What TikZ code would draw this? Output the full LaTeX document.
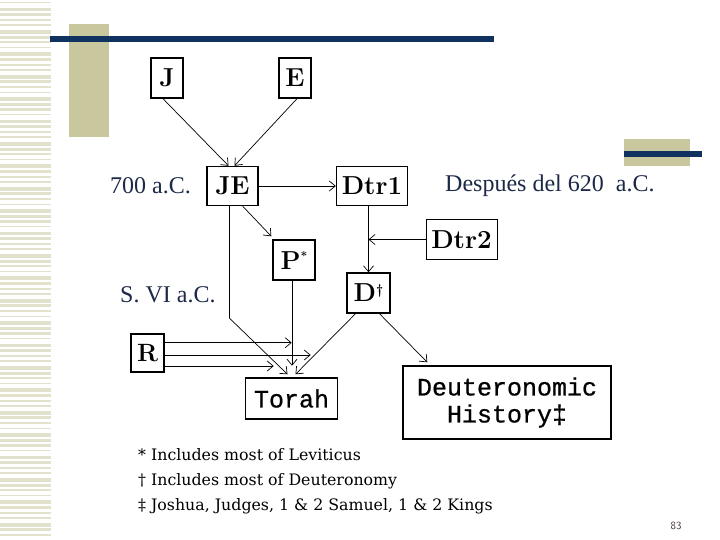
\documentclass[tikz,border=0pt]{standalone}
\usepackage{fontspec}
\newfontfamily\timesfnt{Liberation Serif}
\newfontfamily\monofnt[FakeBold=0.7]{Liberation Mono}
\newfontfamily\notefnt{DejaVu Serif}
\usetikzlibrary{arrows.meta,calc}
\definecolor{navybar}{RGB}{16,50,96}
\definecolor{beigebox}{RGB}{201,199,158}
\definecolor{stripecol}{RGB}{226,225,204}
\definecolor{labelcol}{RGB}{28,42,72}
\definecolor{pagecol}{RGB}{70,50,50}
\newcommand\bxfont{\fontsize{26}{26}\selectfont\bfseries}
\begin{document}
\begin{tikzpicture}[x=1pt,y=-1pt,
  box/.style={draw, line width=1.4pt, inner sep=0pt, align=center},
  bigbold/.style={font=\bxfont},
  arr/.style={-{Straight Barb[length=6pt,width=10pt,line width=0.7pt]}, line width=0.7pt},
  tlabel/.style={font=\timesfnt\fontsize{24}{24}\selectfont, text=labelcol, inner sep=0pt, anchor=west},
  note/.style={font=\notefnt\fontsize{15.8}{16}\selectfont, inner sep=0pt, anchor=west}]
\useasboundingbox (0,0) rectangle (720,540);
\fill[white] (0,0) rectangle (720,540);
% left stripes
\foreach \i in {0,...,95}{
  \pgfmathsetmacro\yy{2+\i*5.6}
  \pgfmathsetmacro\hh{1.4+mod(\i*7,4)*0.8}
  \fill[stripecol] (0,\yy) rectangle (51,{\yy+\hh});
}
% decorations
\fill[beigebox] (69,24) rectangle (109,137);
\fill[navybar] (50,36) rectangle (494,42);
\fill[beigebox] (624,139) rectangle (690,166);
\fill[navybar] (624,151) rectangle (702,157);
% boxes
\node[box, bigbold, minimum width=32pt, minimum height=40pt] (J) at (167,78) {J};
\node[box, bigbold, minimum width=32pt, minimum height=40pt] (E) at (295,78) {E};
\node[box, bigbold, minimum width=51pt, minimum height=39pt] (JE) at (232.5,186) {JE};
\node[box, bigbold, minimum width=71pt, minimum height=39pt] (Dtr1) at (372,186) {Dtr1};
\node[box, bigbold, line width=1pt, minimum width=71pt, minimum height=39pt] (Dtr2) at (461.5,239.5) {Dtr2};
\node[box, bigbold, minimum width=42pt, minimum height=40pt] (P) at (294,260) {P\raisebox{9pt}{\fontsize{12}{12}\selectfont *}};
\node[box, bigbold, minimum width=43pt, minimum height=40pt] (D) at (368.5,293) {D\raisebox{7pt}{\fontsize{14}{14}\selectfont\textdagger}};
\node[box, font=\fontsize{25}{25}\selectfont\bfseries, minimum width=33pt, minimum height=38pt] (R) at (147.5,353) {R};
\node[box, font=\monofnt\fontsize{25}{25}\selectfont, minimum width=92pt, minimum height=41pt] (Torah) at (291.5,398.5) {Torah};
\node[box, font=\monofnt\fontsize{25}{27}\selectfont, minimum width=208pt, minimum height=73pt] (Deut) at (507,402.5) {Deuteronomic\\History‡};
% connectors
\draw[arr] ([xshift=-4pt]J.south) -- ([xshift=-4pt]JE.north);
\draw[arr] ([xshift=2pt]E.south) -- ([xshift=2pt]JE.north);
\draw[arr] (JE.east) -- (Dtr1.west);
\draw[arr] ([xshift=-16pt]JE.south east) -- ([shift={(-1pt,3pt)}]P.north west);
\draw[arr, line width=1.3pt] (D.north |- Dtr1.south) -- (D.north);
\draw[arr] (Dtr2.west) -- (D.north |- Dtr2.west);
\draw[arr] ([xshift=-3pt]JE.south) -- ++(0,112) -- ([shift={(-4pt,3pt)}]Torah.north);
\draw[arr] ([xshift=-2pt]P.south) -- ++(0,85);
\draw[arr] ([xshift=-13pt]D.south) -- ([shift={(4pt,3pt)}]Torah.north);
\draw[arr] ([xshift=11pt]D.south) -- ([shift={(25pt,3pt)}]Deut.north west);
\draw[arr, line width=1.3pt] ([yshift=10.3pt]R.east) -- ++(127,0);
\draw[arr] ([yshift=-2pt]R.east) -- ++(146,0);
\draw[arr] ([yshift=-13pt]R.east) -- ++(109,0);
% labels
\node[tlabel] (t700) at (110,186) {700 a.C.};
\node[tlabel] (tdesp) at (445,186) {Después del 620\ \ a.C.};
\node[tlabel] (tsvi) at (120,295) {S. VI a.C.};
% footnotes
\node[note] (n1) at (138,455) {*\ Includes most of Leviticus};
\node[note] (n2) at (138,481) {†\ Includes most of Deuteronomy};
\node[note] (n3) at (138,506) {‡\ Joshua, Judges, 1 \& 2 Samuel, 1 \& 2 Kings};
\node[font=\sffamily\fontsize{11}{11}\selectfont, text=pagecol, inner sep=0pt] (pg) at (676,526) {83};
\end{tikzpicture}
\end{document}
